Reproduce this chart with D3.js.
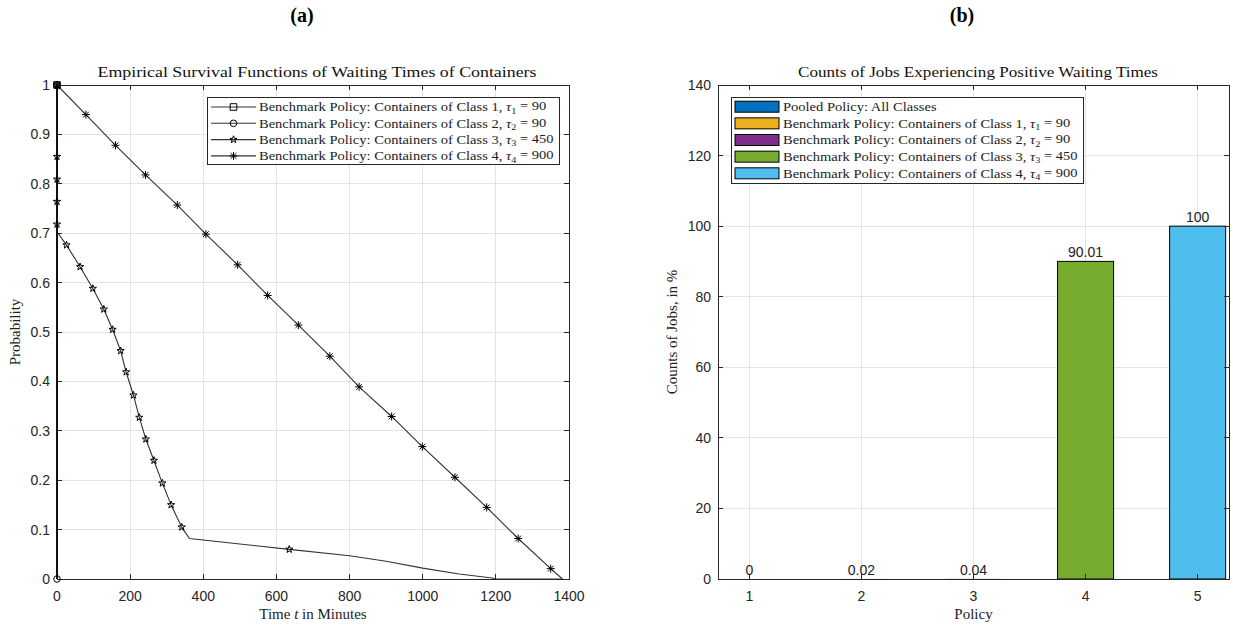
<!DOCTYPE html>
<html><head><meta charset="utf-8">
<script src="https://cdn.jsdelivr.net/npm/d3@7"></script>
<style>body{margin:0;background:#fff}svg{display:block}</style>
</head><body>
<svg id="c" width="1233" height="626"></svg>
<script>
// ---------------- DATA ----------------
// Left panel: empirical survival functions
const survXTicks = [0, 200, 400, 600, 800, 1000, 1200, 1400];
const survYTicks = [0, 0.1, 0.2, 0.3, 0.4, 0.5, 0.6, 0.7, 0.8, 0.9, 1];
const survYTickLabels = ["0","0.1","0.2","0.3","0.4","0.5","0.6","0.7","0.8","0.9","1"];

const class1T = [0, 0];
const class1S = [1, 0];
const class1Marks = [0];

const class2T = [0, 0];
const class2S = [1, 0];
const class2Marks = [0, 1];

const class3T = [0, 0, 0, 0, 0, 0, 26, 63, 98, 128, 152, 174, 189, 209, 225, 243, 265, 288, 312, 341, 362, 635, 800, 900, 1000, 1100, 1190, 1200, 1382];
const class3S = [1, 0.855, 0.809, 0.764, 0.718, 0.703, 0.676, 0.632, 0.588, 0.546, 0.505, 0.462, 0.419, 0.372, 0.327, 0.283, 0.240, 0.194, 0.150, 0.105, 0.082, 0.060, 0.047, 0.036, 0.022, 0.010, 0.002, 0, 0];
const class3Marks = [0, 1, 2, 3, 4, 6, 7, 8, 9, 10, 11, 12, 13, 14, 15, 16, 17, 18, 19, 21];

const class4T = [0, 79, 160, 242, 329, 407, 494, 576, 660, 746, 826, 915, 999, 1088, 1175, 1261, 1350, 1382];
const class4S = [1, 0.940, 0.878, 0.818, 0.757, 0.698, 0.636, 0.574, 0.514, 0.451, 0.389, 0.329, 0.268, 0.206, 0.145, 0.082, 0.021, 0];
const class4Marks = [0, 1, 2, 3, 4, 5, 6, 7, 8, 9, 10, 11, 12, 13, 14, 15, 16];

const survLegend = [
  {pre: "Benchmark Policy: Containers of Class 1, ", sub: "1", post: " = 90", marker: "square"},
  {pre: "Benchmark Policy: Containers of Class 2, ", sub: "2", post: " = 90", marker: "circle"},
  {pre: "Benchmark Policy: Containers of Class 3, ", sub: "3", post: " = 450", marker: "star"},
  {pre: "Benchmark Policy: Containers of Class 4, ", sub: "4", post: " = 900", marker: "asterisk"}
];

// Right panel: counts of jobs with positive waiting times
const policies = [1, 2, 3, 4, 5];
const countValues = [0, 0.02, 0.04, 90.01, 100];
const countLabels = ["0", "0.02", "0.04", "90.01", "100"];
const countYTicks = [0, 20, 40, 60, 80, 100, 120, 140];
const countLegend = [
  {pre: "Pooled Policy: All Classes", sub: "", post: ""},
  {pre: "Benchmark Policy: Containers of Class 1, ", sub: "1", post: " = 90"},
  {pre: "Benchmark Policy: Containers of Class 2, ", sub: "2", post: " = 90"},
  {pre: "Benchmark Policy: Containers of Class 3, ", sub: "3", post: " = 450"},
  {pre: "Benchmark Policy: Containers of Class 4, ", sub: "4", post: " = 900"}
];
const barColors = ["#0072BD", "#EDB120", "#7E2F8E", "#77AC30", "#4DBEEE"];

// ---------------- STYLE / LAYOUT ----------------
const SERIF = "'Liberation Serif', 'Times New Roman', serif";
const SANS = "'Liberation Sans', Arial, Helvetica, sans-serif";
const AX = "#262626", GRID = "#e3e3e3", CURVE = "#333";
const tickFont = 14;
const svg = d3.select("#c");

const L = {x0: 57, x1: 569, y0: 85, y1: 579};
const R = {x0: 718, x1: 1229, y0: 85, y1: 579};

function stretchText(sel, factor) {
  sel.each(function () {
    const w = this.getComputedTextLength();
    d3.select(this).attr("textLength", w * factor).attr("lengthAdjust", "spacingAndGlyphs");
  });
}
function addTau(textSel, d) {
  textSel.append("tspan").text(d.pre);
  if (d.sub) {
    textSel.append("tspan").attr("font-style", "italic").text("τ");
    textSel.append("tspan").attr("font-size", "0.7em").attr("dy", "0.25em").text(d.sub);
    textSel.append("tspan").attr("dy", "-0.25em").text(d.post);
  }
}

// marker path generators (centered at 0,0)
function markerPath(type, r) {
  if (type === "square") return `M${-r},${-r}H${r}V${r}H${-r}Z`;
  if (type === "circle") return `M${r},0A${r},${r} 0 1,1 ${-r},0A${r},${r} 0 1,1 ${r},0Z`;
  if (type === "star") {
    let p = "";
    for (let i = 0; i < 10; i++) {
      const rr = i % 2 === 0 ? r * 1.15 : r * 0.46;
      const a = -Math.PI / 2 + i * Math.PI / 5;
      p += (i === 0 ? "M" : "L") + (rr * Math.cos(a)).toFixed(2) + "," + (rr * Math.sin(a)).toFixed(2);
    }
    return p + "Z";
  }
  if (type === "asterisk") {
    const d = r * 0.72;
    return `M0,${-r}V${r}M${-r},0H${r}M${-d},${-d}L${d},${d}M${-d},${d}L${d},${-d}`;
  }
}

function grid(g, A, xs, ys, xt, yt) {
  g.append("g").selectAll("line").data(xt).join("line")
    .attr("x1", d => xs(d)).attr("x2", d => xs(d)).attr("y1", A.y0).attr("y2", A.y1)
    .attr("stroke", GRID).attr("stroke-width", 1).attr("shape-rendering", "crispEdges");
  g.append("g").selectAll("line").data(yt).join("line")
    .attr("y1", d => ys(d)).attr("y2", d => ys(d)).attr("x1", A.x0).attr("x2", A.x1)
    .attr("stroke", GRID).attr("stroke-width", 1).attr("shape-rendering", "crispEdges");
}
function axesBox(g, A, xs, ys, xt, yt, ytl, xtl) {
  const t = 5;
  const tk = g.append("g").attr("stroke", AX).attr("stroke-width", 1).attr("shape-rendering", "crispEdges");
  xt.forEach(d => {
    tk.append("line").attr("x1", xs(d)).attr("x2", xs(d)).attr("y1", A.y1).attr("y2", A.y1 - t);
    tk.append("line").attr("x1", xs(d)).attr("x2", xs(d)).attr("y1", A.y0).attr("y2", A.y0 + t);
  });
  yt.forEach(d => {
    tk.append("line").attr("y1", ys(d)).attr("y2", ys(d)).attr("x1", A.x0).attr("x2", A.x0 + t);
    tk.append("line").attr("y1", ys(d)).attr("y2", ys(d)).attr("x1", A.x1).attr("x2", A.x1 - t);
  });
  g.append("rect").attr("x", A.x0).attr("y", A.y0).attr("width", A.x1 - A.x0).attr("height", A.y1 - A.y0)
    .attr("fill", "none").attr("stroke", AX).attr("stroke-width", 1).attr("shape-rendering", "crispEdges");
  g.append("g").selectAll("text").data(xt).join("text")
    .attr("x", d => xs(d)).attr("y", A.y1 + 22).attr("text-anchor", "middle")
    .attr("font-family", SANS).attr("font-size", tickFont).attr("fill", AX)
    .text((d, i) => xtl[i]);
  g.append("g").selectAll("text").data(yt).join("text")
    .attr("x", A.x0 - 7).attr("y", d => ys(d)).attr("dy", "0.36em").attr("text-anchor", "end")
    .attr("font-family", SANS).attr("font-size", tickFont).attr("fill", AX)
    .text((d, i) => ytl[i]);
}

// ---------------- PANEL LABELS ----------------
svg.append("text").attr("x", 302).attr("y", 22).attr("text-anchor", "middle")
  .attr("font-family", SERIF).attr("font-weight", "bold").attr("font-size", 20).text("(a)");
svg.append("text").attr("x", 962).attr("y", 22).attr("text-anchor", "middle")
  .attr("font-family", SERIF).attr("font-weight", "bold").attr("font-size", 20).text("(b)");

// ---------------- LEFT PANEL ----------------
const gl = svg.append("g");
const xL = d3.scaleLinear().domain([0, 1400]).range([L.x0, L.x1]);
const yL = d3.scaleLinear().domain([0, 1]).range([L.y1, L.y0]);
grid(gl, L, xL, yL, survXTicks, survYTicks);

const series = [
  {t: class1T, s: class1S, m: class1Marks, marker: "square"},
  {t: class2T, s: class2S, m: class2Marks, marker: "circle"},
  {t: class3T, s: class3S, m: class3Marks, marker: "star"},
  {t: class4T, s: class4S, m: class4Marks, marker: "asterisk"}
];
const line = d3.line().x(d => xL(d[0])).y(d => yL(d[1]));
series.forEach(se => {
  const pts = se.t.map((t, i) => [t, se.s[i]]);
  gl.append("path").attr("d", line(pts)).attr("fill", "none").attr("stroke", CURVE).attr("stroke-width", 1.1);
});
axesBox(gl, L, xL, yL, survXTicks, survYTicks, survYTickLabels, survXTicks.map(String));
gl.append("line").attr("x1", xL(0)).attr("x2", xL(0)).attr("y1", yL(1)).attr("y2", yL(0))
  .attr("stroke", "#111").attr("stroke-width", 2);
series.forEach(se => {
  gl.append("g").selectAll("path").data(se.m).join("path")
    .attr("transform", i => `translate(${xL(se.t[i])},${yL(se.s[i])})`)
    .attr("d", markerPath(se.marker, se.marker === "asterisk" ? 4 : 3.3))
    .attr("fill", "none").attr("stroke", "#000").attr("stroke-width", 1);
});

svg.append("text").attr("x", 317).attr("y", 77).attr("text-anchor", "middle")
  .attr("font-family", SERIF).attr("font-size", 15.5).attr("fill", "#111")
  .attr("textLength", 439).attr("lengthAdjust", "spacingAndGlyphs")
  .text("Empirical Survival Functions of Waiting Times of Containers");
svg.append("text").attr("transform", `translate(20,${(L.y0 + L.y1) / 2}) rotate(-90)`)
  .attr("text-anchor", "middle").attr("font-family", SERIF).attr("font-size", 15).attr("fill", "#222")
  .text("Probability");
const xlab = svg.append("text").attr("x", (L.x0 + L.x1) / 2).attr("y", 619).attr("text-anchor", "middle")
  .attr("font-family", SERIF).attr("font-size", 15).attr("fill", "#222");
xlab.append("tspan").text("Time ");
xlab.append("tspan").attr("font-style", "italic").text("t");
xlab.append("tspan").text(" in Minutes");

// legend
const lgL = svg.append("g");
const lgLRowY = i => 107 + i * 16.3;
const lgLBox = lgL.append("rect").attr("x", 207).attr("y", 97).attr("height", 67)
  .attr("fill", "#fff").attr("stroke", AX).attr("stroke-width", 1).attr("shape-rendering", "crispEdges");
let maxW = 0;
survLegend.forEach((d, i) => {
  const y = lgLRowY(i);
  lgL.append("line").attr("x1", 211).attr("x2", 256).attr("y1", y).attr("y2", y).attr("stroke", CURVE).attr("stroke-width", 1.1);
  lgL.append("path").attr("transform", `translate(233.5,${y})`)
    .attr("d", markerPath(d.marker, d.marker === "asterisk" ? 4 : 3.3))
    .attr("fill", "none").attr("stroke", "#000").attr("stroke-width", 1);
  const tx = lgL.append("text").attr("x", 259).attr("y", y).attr("dy", "0.33em")
    .attr("font-family", SERIF).attr("font-size", 13.2).attr("fill", "#222");
  addTau(tx, d);
  stretchText(tx, 1.1);
  maxW = Math.max(maxW, +tx.attr("textLength"));
});
lgLBox.attr("width", 259 + maxW + 6 - 207);

// ---------------- RIGHT PANEL ----------------
const gr = svg.append("g");
const xR = d3.scaleLinear().domain([0.72, 5.28]).range([R.x0, R.x1]);
const yR = d3.scaleLinear().domain([0, 140]).range([R.y1, R.y0]);
grid(gr, R, xR, yR, policies, countYTicks);
const bw = xR(0.5) - xR(0);
gr.append("g").selectAll("rect").data(policies).join("rect")
  .attr("x", d => xR(d) - bw / 2).attr("width", bw)
  .attr("y", (d, i) => yR(countValues[i])).attr("height", (d, i) => yR(0) - yR(countValues[i]))
  .attr("fill", (d, i) => barColors[i])
  .attr("stroke", (d, i) => (yR(0) - yR(countValues[i]) > 1 ? "#000" : "none")).attr("stroke-width", 1);
axesBox(gr, R, xR, yR, policies, countYTicks, countYTicks.map(String), policies.map(String));
gr.append("g").selectAll("text").data(policies).join("text")
  .attr("x", d => xR(d)).attr("y", (d, i) => yR(countValues[i]) - 4).attr("text-anchor", "middle")
  .attr("font-family", SANS).attr("font-size", tickFont).attr("fill", "#222")
  .text((d, i) => countLabels[i]);

svg.append("text").attr("x", 978).attr("y", 77).attr("text-anchor", "middle")
  .attr("font-family", SERIF).attr("font-size", 15.5).attr("fill", "#111")
  .attr("textLength", 360).attr("lengthAdjust", "spacingAndGlyphs")
  .text("Counts of Jobs Experiencing Positive Waiting Times");
svg.append("text").attr("transform", `translate(677,${(R.y0 + R.y1) / 2}) rotate(-90)`)
  .attr("text-anchor", "middle").attr("font-family", SERIF).attr("font-size", 15).attr("fill", "#222")
  .text("Counts of Jobs, in %");
svg.append("text").attr("x", (R.x0 + R.x1) / 2).attr("y", 619).attr("text-anchor", "middle")
  .attr("font-family", SERIF).attr("font-size", 15).attr("fill", "#222").text("Policy");

// legend
const lgR = svg.append("g");
const lgRRowY = i => 106.7 + i * 16.65;
const lgRBox = lgR.append("rect").attr("x", 731).attr("y", 97).attr("height", 86)
  .attr("fill", "#fff").attr("stroke", AX).attr("stroke-width", 1).attr("shape-rendering", "crispEdges");
let maxWR = 0;
countLegend.forEach((d, i) => {
  const y = lgRRowY(i);
  lgR.append("rect").attr("x", 735).attr("y", y - 5.5).attr("width", 44).attr("height", 11)
    .attr("fill", barColors[i]).attr("stroke", "#000").attr("stroke-width", 1);
  const tx = lgR.append("text").attr("x", 783).attr("y", y).attr("dy", "0.33em")
    .attr("font-family", SERIF).attr("font-size", 13.2).attr("fill", "#222");
  addTau(tx, d);
  stretchText(tx, 1.1);
  maxWR = Math.max(maxWR, +tx.attr("textLength"));
});
lgRBox.attr("width", 783 + maxWR + 6 - 731);
</script>
</body></html>
